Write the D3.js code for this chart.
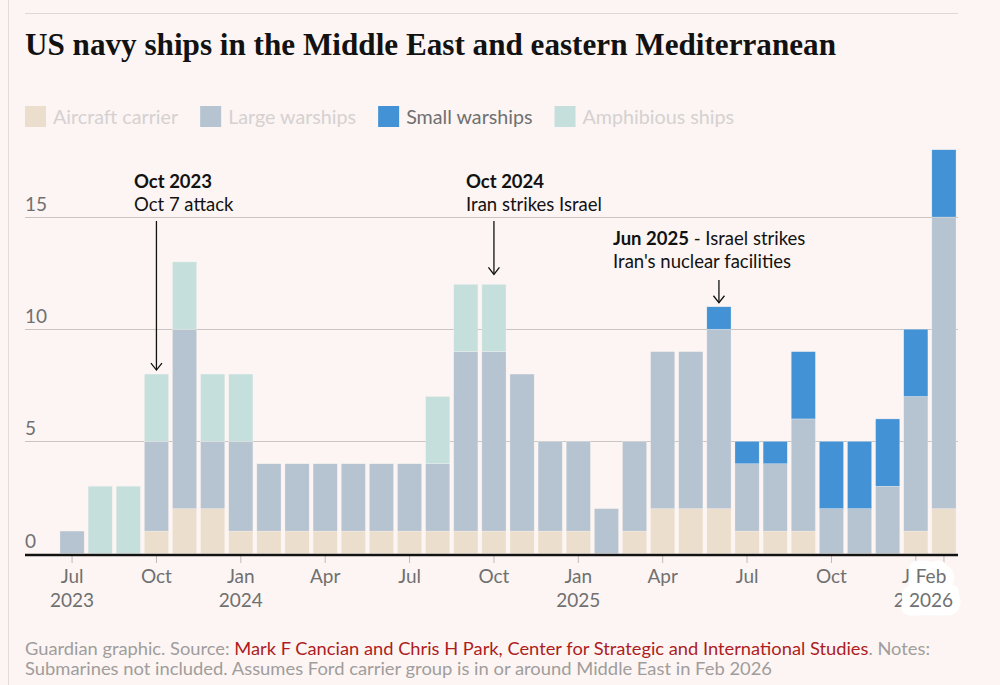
<!DOCTYPE html>
<html>
<head>
<meta charset="utf-8">
<script src="https://cdn.jsdelivr.net/npm/d3@7"></script>
<style>
  html, body { margin: 0; padding: 0; background: #fcf5f3; }
  svg { display: block; }
  text { font-family: Lato, "Noto Sans", sans-serif; }
</style>
</head>
<body>
<div id="chart"></div>
<script>
// one entry per month, Jul 2023 - Feb 2026
const months = [
  "Jul 2023", "Aug 2023", "Sep 2023", "Oct 2023", "Nov 2023", "Dec 2023",
  "Jan 2024", "Feb 2024", "Mar 2024", "Apr 2024", "May 2024", "Jun 2024",
  "Jul 2024", "Aug 2024", "Sep 2024", "Oct 2024", "Nov 2024", "Dec 2024",
  "Jan 2025", "Feb 2025", "Mar 2025", "Apr 2025", "May 2025", "Jun 2025",
  "Jul 2025", "Aug 2025", "Sep 2025", "Oct 2025", "Nov 2025", "Dec 2025",
  "Jan 2026", "Feb 2026"
];
const carrier = [0, 0, 0, 1, 2, 2, 1, 1, 1, 1, 1, 1, 1, 1, 1, 1, 1, 1, 1, 0, 1, 2, 2, 2, 1, 1, 1, 0, 0, 0, 1, 2];
const large   = [1, 0, 0, 4, 8, 3, 4, 3, 3, 3, 3, 3, 3, 3, 8, 8, 7, 4, 4, 2, 4, 7, 7, 8, 3, 3, 5, 2, 2, 3, 6, 13];
const small   = [0, 0, 0, 0, 0, 0, 0, 0, 0, 0, 0, 0, 0, 0, 0, 0, 0, 0, 0, 0, 0, 0, 0, 1, 1, 1, 3, 3, 3, 3, 3, 3];
const amphib  = [0, 3, 3, 3, 3, 3, 3, 0, 0, 0, 0, 0, 0, 3, 3, 3, 0, 0, 0, 0, 0, 0, 0, 0, 0, 0, 0, 0, 0, 0, 0, 0];

const seriesKeys = ["carrier", "large", "small", "amphib"];
const seriesNames = ["Aircraft carrier", "Large warships", "Small warships", "Amphibious ships"];
const seriesColors = ["#ebdecc", "#b6c3d0", "#4292d5", "#c5e0dc"];
const legendDimmed = [true, true, false, true];

const yTicks = [0, 5, 10, 15];
const xTickMonths = ["Jul 2023", "Oct 2023", "Jan 2024", "Apr 2024", "Jul 2024", "Oct 2024",
  "Jan 2025", "Apr 2025", "Jul 2025", "Oct 2025", "Jan 2026", "Feb 2026"];
const xTickLabels = [["Jul", "2023"], ["Oct"], ["Jan", "2024"], ["Apr"], ["Jul"], ["Oct"],
  ["Jan", "2025"], ["Apr"], ["Jul"], ["Oct"], ["Jan", "2026"], ["Feb", "2026"]];

const annotations = [
  { month: "Oct 2023", bold: "Oct 2023", rest: "", line2: "Oct 7 attack", tx: 134, ty: 188, arrowTop: 221 },
  { month: "Oct 2024", bold: "Oct 2024", rest: "", line2: "Iran strikes Israel", tx: 466, ty: 188, arrowTop: 221 },
  { month: "Jun 2025", bold: "Jun 2025", rest: " - Israel strikes", line2: "Iran's nuclear facilities", tx: 613, ty: 245, arrowTop: 280 }
];

const width = 1000, height = 685;
const left = 25, right = 958;

const table = months.map((m, i) => ({
  month: m, carrier: carrier[i], large: large[i], small: small[i], amphib: amphib[i]
}));
const totals = table.map((d) => d.carrier + d.large + d.small + d.amphib);

const svg = d3.select("#chart").append("svg")
  .attr("width", width)
  .attr("height", height);

svg.append("rect").attr("width", width).attr("height", height).attr("fill", "#fcf5f3");

// page frame
svg.append("line").attr("x1", 8.5).attr("x2", 8.5).attr("y1", 0).attr("y2", height)
  .attr("stroke", "#e2dcdb").attr("stroke-width", 1);
svg.append("line").attr("x1", left).attr("x2", right).attr("y1", 13.5).attr("y2", 13.5)
  .attr("stroke", "#dcdad9").attr("stroke-width", 1);

svg.append("text")
  .attr("x", left).attr("y", 55)
  .style("font-family", "'Liberation Serif', 'DejaVu Serif', serif")
  .style("font-weight", 700)
  .style("font-size", "31px")
  .attr("fill", "#121212")
  .attr("textLength", 811)
  .attr("lengthAdjust", "spacingAndGlyphs")
  .text("US navy ships in the Middle East and eastern Mediterranean");

// legend
const legend = svg.append("g").attr("transform", "translate(0,106)");
let lx = left;
seriesNames.forEach((name, i) => {
  legend.append("rect").attr("x", lx).attr("y", 0).attr("width", 21).attr("height", 21)
    .attr("fill", seriesColors[i]);
  const t = legend.append("text").attr("x", lx + 28).attr("y", 18)
    .style("font-size", "19.7px")
    .attr("fill", legendDimmed[i] ? "#d5d1d1" : "#707070")
    .text(name);
  lx += 28 + t.node().getComputedTextLength() + 22;
});

const x = d3.scaleBand()
  .domain(months)
  .range([58, right])
  .paddingInner(0.14)
  .paddingOuter(0.07);

const y = d3.scaleLinear()
  .domain([0, 18])
  .range([553.5, 553.5 - 18 * 22.43]);

// gridlines + y labels
const grid = svg.append("g");
grid.selectAll("line")
  .data(yTicks.filter((d) => d > 0))
  .join("line")
  .attr("x1", left).attr("x2", right)
  .attr("y1", (d) => Math.round(y(d)) + 0.5)
  .attr("y2", (d) => Math.round(y(d)) + 0.5)
  .attr("stroke", "#c9c5c4");
grid.selectAll("text")
  .data(yTicks)
  .join("text")
  .attr("x", left)
  .attr("y", (d) => y(d) - 6)
  .style("font-size", "19px")
  .attr("fill", "#707070")
  .text((d) => d);

// stacked bars
const stacked = d3.stack().keys(seriesKeys)(table);
svg.append("g")
  .selectAll("g")
  .data(stacked)
  .join("g")
  .attr("fill", (d, i) => seriesColors[i])
  .selectAll("rect")
  .data((d) => d.filter((p) => p[1] > p[0]))
  .join("rect")
  .attr("x", (d) => x(d.data.month))
  .attr("y", (d) => y(d[1]))
  .attr("width", x.bandwidth())
  .attr("height", (d) => y(d[0]) - y(d[1]))
  .attr("stroke", "#fcf5f3")
  .attr("stroke-opacity", 0.6)
  .attr("stroke-width", 0.5);

// x axis
const xAxis = svg.append("g")
  .attr("transform", "translate(0,555)")
  .call(d3.axisBottom(x).tickValues(xTickMonths).tickSize(8).tickSizeOuter(0).tickFormat(""));
xAxis.select(".domain").remove();
xAxis.selectAll(".tick line").attr("stroke", "#bdbab9");

svg.append("line")
  .attr("x1", left).attr("x2", right)
  .attr("y1", 555).attr("y2", 555)
  .attr("stroke", "#121212").attr("stroke-width", 2.5);

const labels = svg.append("g");
xTickMonths.forEach((m, i) => {
  const isLast = i === xTickMonths.length - 1;
  const cx = isLast ? right - 27 : x(m) + x.bandwidth() / 2;
  const t = labels.append("text")
    .attr("text-anchor", "middle")
    .style("font-size", "19px")
    .attr("fill", "#707070");
  if (isLast) {
    // last label sits on a white halo that hides most of the Jan label beneath
    t.attr("stroke", "#ffffff").attr("stroke-width", 17)
      .attr("stroke-linejoin", "round").attr("paint-order", "stroke");
  }
  xTickLabels[i].forEach((line, j) => {
    t.append("tspan").attr("x", cx).attr("y", 583 + j * 24).text(line);
  });
});

// annotations
const ann = svg.append("g");
annotations.forEach((a) => {
  const cx = x(a.month) + x.bandwidth() / 2;
  const barTop = y(totals[months.indexOf(a.month)]);
  const t1 = ann.append("text").attr("x", a.tx).attr("y", a.ty)
    .style("font-size", "18.5px").attr("fill", "#121212");
  t1.append("tspan").style("font-weight", 700).text(a.bold);
  if (a.rest) t1.append("tspan").text(a.rest);
  ann.append("text").attr("x", a.tx).attr("y", a.ty + 23)
    .style("font-size", "18.5px").attr("fill", "#121212")
    .text(a.line2);
  const yEnd = barTop - (a.month === "Oct 2024" ? 10 : 4);
  ann.append("line")
    .attr("x1", cx).attr("x2", cx)
    .attr("y1", a.arrowTop).attr("y2", yEnd)
    .attr("stroke", "#121212").attr("stroke-width", 1.3);
  ann.append("path")
    .attr("d", `M${cx - 5.5},${yEnd - 7}L${cx},${yEnd}L${cx + 5.5},${yEnd - 7}`)
    .attr("fill", "none").attr("stroke", "#121212").attr("stroke-width", 1.3);
});

// footer
const foot1 = svg.append("text").attr("x", left).attr("y", 655)
  .style("font-size", "17px").attr("fill", "#a09d9c")
  .attr("textLength", 905).attr("lengthAdjust", "spacingAndGlyphs");
foot1.append("tspan").text("Guardian graphic. Source: ");
foot1.append("tspan").attr("fill", "#ad1d22")
  .text("Mark F Cancian and Chris H Park, Center for Strategic and International Studies");
foot1.append("tspan").text(". Notes:");

svg.append("text").attr("x", left).attr("y", 675)
  .style("font-size", "17px").attr("fill", "#a09d9c")
  .attr("textLength", 747).attr("lengthAdjust", "spacingAndGlyphs")
  .text("Submarines not included. Assumes Ford carrier group is in or around Middle East in Feb 2026");
</script>
</body>
</html>
